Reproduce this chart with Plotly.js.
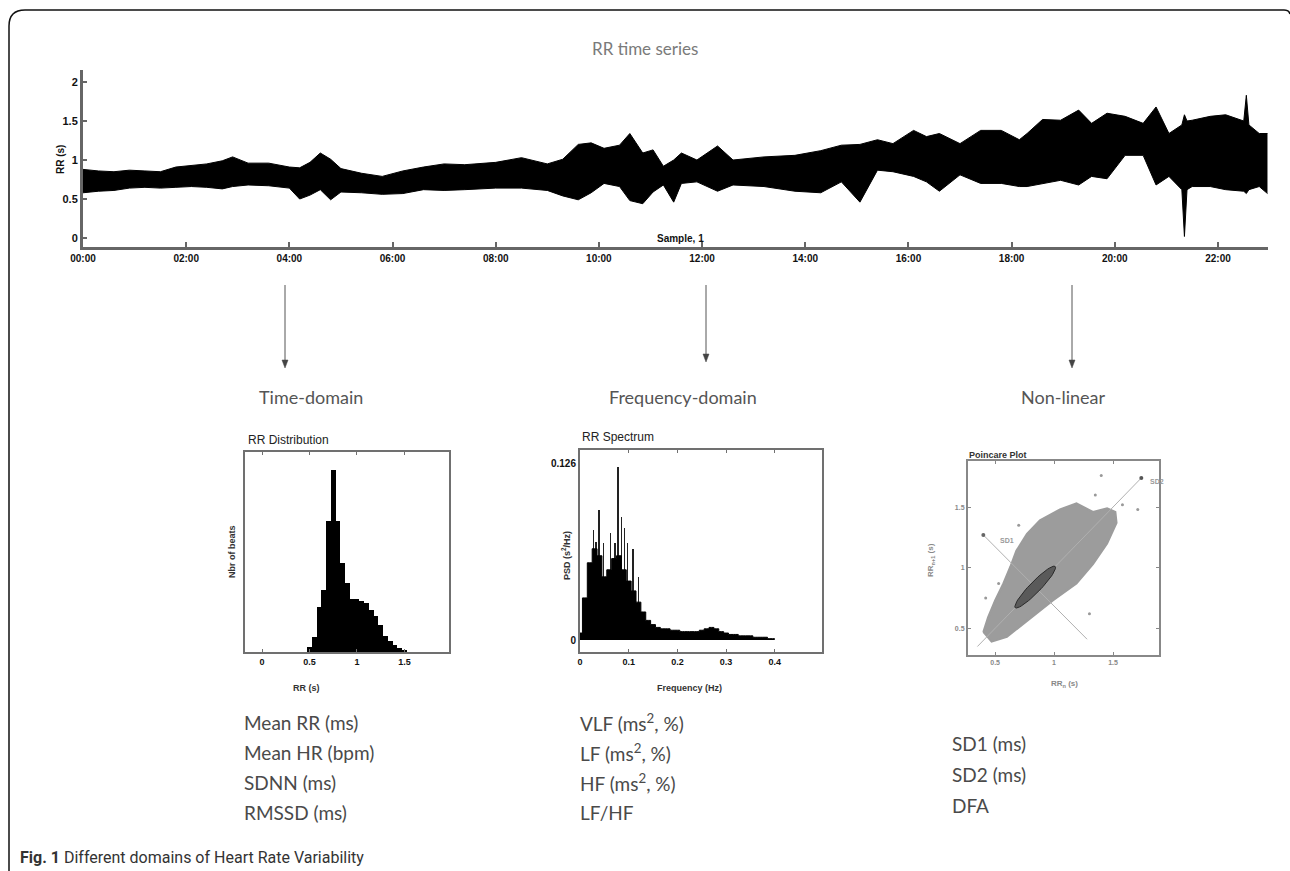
<!DOCTYPE html>
<html><head><meta charset="utf-8">
<script src="https://cdn.plot.ly/plotly-3.0.1.min.js"></script>
<style>html,body{margin:0;padding:0;background:#fff}#chart{width:1290px;height:871px}</style>
</head><body><div id="chart"></div>
<script>
// ---- RR time series (envelope: hours, upper and lower RR in s)
const rrHours = [0.00,0.3,0.6,0.9,1.2,1.5,1.8,2.1,2.4,2.7,2.9,3.2,3.6,4.0,4.2,4.4,4.6,4.8,5.0,5.4,5.8,6.2,6.6,7.0,7.4,8.0,8.5,9.0,9.3,9.6,9.85,10.1,10.4,10.6,10.85,11.05,11.25,11.45,11.6,11.9,12.3,12.6,13.2,13.8,14.3,14.7,15.06,15.4,15.7,16.1,16.35,16.6,17.0,17.4,17.8,18.15,18.3,18.6,18.95,19.3,19.55,19.85,20.2,20.55,20.8,21.05,21.3,21.35,21.4,21.5,21.85,22.15,22.5,22.55,22.6,22.8,22.96];
const rrUpper = [0.88,0.86,0.85,0.87,0.86,0.85,0.91,0.93,0.95,0.99,1.04,0.96,0.96,0.91,0.90,0.97,1.09,1.01,0.89,0.83,0.79,0.86,0.91,0.95,0.94,0.97,1.03,0.95,1.01,1.20,1.22,1.15,1.19,1.34,1.09,1.13,0.92,1.00,1.09,1.00,1.18,1.00,1.04,1.06,1.12,1.19,1.20,1.26,1.21,1.38,1.30,1.34,1.21,1.38,1.38,1.26,1.34,1.52,1.51,1.64,1.47,1.60,1.56,1.47,1.68,1.34,1.45,1.58,1.50,1.51,1.56,1.58,1.50,1.83,1.45,1.34,1.34];
const rrLower = [0.58,0.60,0.61,0.64,0.65,0.64,0.65,0.66,0.65,0.63,0.66,0.68,0.67,0.64,0.50,0.55,0.62,0.49,0.59,0.58,0.56,0.57,0.62,0.61,0.62,0.64,0.64,0.61,0.54,0.49,0.58,0.70,0.66,0.48,0.44,0.59,0.68,0.46,0.70,0.72,0.60,0.68,0.66,0.60,0.58,0.72,0.46,0.87,0.85,0.79,0.72,0.60,0.81,0.70,0.70,0.66,0.66,0.70,0.74,0.68,0.79,0.76,1.06,1.06,0.68,0.79,0.62,0.02,0.62,0.66,0.66,0.62,0.60,0.57,0.62,0.66,0.57];
const timeTickVals = [0,2,4,6,8,10,12,14,16,18,20,22];
const timeTickText = ["00:00","02:00","04:00","06:00","08:00","10:00","12:00","14:00","16:00","18:00","20:00","22:00"];
const rrTickVals = [0,0.5,1,1.5,2];

// ---- RR distribution histogram (bin centres in s, relative counts)
const histBins = [0.50,0.55,0.60,0.65,0.70,0.75,0.80,0.85,0.90,0.95,1.00,1.05,1.10,1.15,1.20,1.25,1.30,1.35,1.40,1.45,1.50];
const histCounts = [3,8,25,34,72,100,72,49,38,29,29,28,27,23,20,15,9,6,4,2,1];
const histTicks = [0,0.5,1,1.5];

// ---- RR spectrum (Hz, s^2/Hz)
const specFreq = [0.00,0.01,0.02,0.03,0.04,0.05,0.06,0.07,0.08,0.09,0.10,0.11,0.12,0.13,0.14,0.15,0.16,0.17,0.18,0.19,0.20,0.21,0.22,0.23,0.24,0.25,0.26,0.27,0.28,0.29,0.30,0.31,0.32,0.33,0.34,0.35,0.36,0.37,0.38,0.39,0.40];
const specPSD  = [0.005,0.030,0.055,0.065,0.060,0.045,0.050,0.058,0.060,0.050,0.042,0.035,0.027,0.020,0.014,0.011,0.009,0.008,0.008,0.007,0.007,0.006,0.006,0.006,0.006,0.007,0.008,0.009,0.008,0.006,0.005,0.004,0.004,0.003,0.003,0.003,0.002,0.002,0.002,0.001,0.001];
const peakFreq = [0.028,0.033,0.039,0.048,0.062,0.072,0.078,0.086,0.092,0.097,0.109,0.120];
const peakPSD  = [0.078,0.070,0.0925,0.069,0.076,0.069,0.123,0.0875,0.080,0.069,0.065,0.045];
const specXTicks = [0,0.1,0.2,0.3,0.4];
const specYTicks = [0,0.126];

// ---- Poincare plot (RRn, RRn+1 in s)
const cloudX = [0.40,0.47,0.60,0.80,0.99,1.19,1.33,1.45,1.53,1.52,1.45,1.33,1.19,1.05,0.88,0.77,0.68,0.63,0.57,0.50,0.44,0.40];
const cloudY = [0.47,0.39,0.43,0.58,0.73,0.87,1.03,1.20,1.37,1.46,1.49,1.46,1.53,1.48,1.39,1.28,1.14,1.01,0.87,0.73,0.59,0.47];
const outX = [1.40,1.71,0.53,0.42,1.30,1.58,0.70,1.35];
const outY = [1.76,1.48,0.87,0.75,0.62,1.52,1.35,1.60];
const identX = [0.35,1.74];
const identY = [0.35,1.74];
const sd1LineX = [0.40,1.28];
const sd1LineY = [1.27,0.41];
const ellipseCentre = [0.84,0.84];
const sd2Half = 0.24;
const sd1Half = 0.045;
const poincTicks = [0.5,1,1.5];

// ---- text
const sectionTitles = ["Time-domain","Frequency-domain","Non-linear"];
const timeList = ["Mean RR (ms)","Mean HR (bpm)","SDNN (ms)","RMSSD (ms)"];
const freqList = ["VLF (ms<sup>2</sup>, %)","LF (ms<sup>2</sup>, %)","HF (ms<sup>2</sup>, %)","LF/HF"];
const nonlinList = ["SD1 (ms)","SD2 (ms)","DFA"];

// ---- layout helpers (pixel -> paper)
const W = 1290, H = 871;
const px = x => x / W;
const py = y => 1 - y / H;

// ellipse points derived from SD1/SD2 parameters
const ellX = [], ellY = [];
for (let i = 0; i <= 60; i++) {
  const t = i / 60 * 2 * Math.PI;
  const a = sd2Half * Math.cos(t), b = sd1Half * Math.sin(t);
  ellX.push(ellipseCentre[0] + (a - b) / Math.SQRT2);
  ellY.push(ellipseCentre[1] + (a + b) / Math.SQRT2);
}

const traces = [
  {x: rrHours, y: rrLower, type: 'scatter', mode: 'lines', line: {color: '#000', width: 1}, xaxis: 'x', yaxis: 'y', hoverinfo: 'skip'},
  {x: rrHours, y: rrUpper, type: 'scatter', mode: 'lines', fill: 'tonexty', fillcolor: '#000', line: {color: '#000', width: 1}, xaxis: 'x', yaxis: 'y', hoverinfo: 'skip'},
  {x: histBins, y: histCounts, type: 'bar', width: 0.051, marker: {color: '#000', line: {width: 0}}, xaxis: 'x2', yaxis: 'y2'},
  {x: specFreq, y: specPSD, type: 'scatter', mode: 'lines', line: {color: '#000', width: 1, shape: 'hvh'}, fill: 'tozeroy', fillcolor: '#000', xaxis: 'x3', yaxis: 'y3'},
  {x: peakFreq, y: peakPSD, type: 'bar', width: 0.0025, marker: {color: '#222', line: {width: 0}}, xaxis: 'x3', yaxis: 'y3'},
  {x: cloudX, y: cloudY, type: 'scatter', mode: 'lines', fill: 'toself', fillcolor: '#9c9c9c', line: {color: '#9c9c9c', width: 2}, xaxis: 'x4', yaxis: 'y4'},
  {x: outX, y: outY, type: 'scatter', mode: 'markers', marker: {color: '#999', size: 3}, xaxis: 'x4', yaxis: 'y4'},
  {x: identX, y: identY, type: 'scatter', mode: 'lines+markers', line: {color: '#b0b0b0', width: 1}, marker: {color: ['rgba(0,0,0,0)','#555'], size: 4}, xaxis: 'x4', yaxis: 'y4'},
  {x: sd1LineX, y: sd1LineY, type: 'scatter', mode: 'lines+markers', line: {color: '#b0b0b0', width: 1}, marker: {color: ['#666','rgba(0,0,0,0)'], size: 4}, xaxis: 'x4', yaxis: 'y4'},
  {x: ellX, y: ellY, type: 'scatter', mode: 'lines', fill: 'toself', fillcolor: '#5a5a5a', line: {color: '#2a2a2a', width: 1}, xaxis: 'x4', yaxis: 'y4'}
];

const tf = (s, c) => ({family: 'Arial, Liberation Sans, sans-serif', size: s, color: c || '#111', weight: 'bold'});
const boxAxis = (extra) => Object.assign({showline: true, mirror: 'ticks', linecolor: '#707070', linewidth: 2, ticks: 'inside', ticklen: 3, tickcolor: '#707070', showgrid: false, zeroline: false, fixedrange: true}, extra);

const ann = [];
const txt = (x, y, text, font, opts) => ann.push(Object.assign({xref: 'paper', yref: 'paper', x: px(x), y: py(y), text: text, showarrow: false, font: font, xanchor: 'center', yanchor: 'middle'}, opts || {}));

txt(645, 48, 'RR time series', {family: 'Lato, Open Sans, sans-serif', size: 17, color: '#7a7a7a'});
txt(680, 238, 'Sample, 1', tf(10));
txt(60, 160, 'RR (s)', tf(10), {textangle: -90});

const secFont = {family: 'Lato, Open Sans, sans-serif', size: 18, color: '#555'};
txt(311, 397, sectionTitles[0], secFont);
txt(683, 397, sectionTitles[1], secFont);
txt(1063, 397, sectionTitles[2], secFont);

// subplot titles and axis titles
txt(246, 440, 'RR Distribution', {family: 'Arial, sans-serif', size: 12, color: '#222'}, {xanchor: 'left'});
txt(580, 437, 'RR Spectrum', {family: 'Arial, sans-serif', size: 12, color: '#222'}, {xanchor: 'left'});
txt(967, 455, 'Poincare Plot', tf(9, '#333'), {xanchor: 'left'});
txt(232, 552, 'Nbr of beats', tf(9, '#333'), {textangle: -90});
txt(566, 556, 'PSD (s<sup>2</sup>/Hz)', tf(9, '#333'), {textangle: -90});
txt(931, 560, 'RR<sub>n+1</sub> (s)', tf(8, '#888'), {textangle: -90});
txt(306, 688, 'RR (s)', tf(9, '#333'));
txt(690, 688, 'Frequency (Hz)', tf(9, '#333'));
txt(1064, 684, 'RR<sub>n</sub> (s)', tf(8, '#888'));
txt(1148, 481, 'SD2', tf(7, '#999'), {xanchor: 'left'});
txt(998, 540, 'SD1', tf(7, '#999'), {xanchor: 'left'});

const listFont = {family: 'Lato, Open Sans, sans-serif', size: 19, color: '#4a4a4a'};
timeList.forEach((t, i) => txt(242, 722 + 30 * i, t, listFont, {xanchor: 'left'}));
freqList.forEach((t, i) => txt(578, 722 + 30 * i, t, listFont, {xanchor: 'left'}));
nonlinList.forEach((t, i) => txt(950, 743 + 31 * i, t, listFont, {xanchor: 'left'}));

txt(18, 857, '<b>Fig. 1</b> Different domains of Heart Rate Variability', {family: 'Roboto, sans-serif', size: 16, color: '#333'}, {xanchor: 'left'});

// arrows as shapes (line + triangular head)
const shapes = [
  {type: 'path', xref: 'paper', yref: 'paper',
   path: `M ${px(9)},${py(871)} L ${px(9)},${py(26)} Q ${px(9)},${py(10)} ${px(25)},${py(10)} L ${px(1284)},${py(10)} Q ${px(1289)},${py(10)} ${px(1290)},${py(14)}`,
   line: {color: '#111', width: 1.5}}
];
[[285, 368], [706, 362], [1072, 368]].forEach(p => {
  shapes.push({type: 'line', xref: 'paper', yref: 'paper', x0: px(p[0]), x1: px(p[0]), y0: py(285), y1: py(p[1] - 6), line: {color: '#555', width: 1}});
  shapes.push({type: 'path', xref: 'paper', yref: 'paper', path: `M ${px(p[0] - 3)},${py(p[1] - 8)} L ${px(p[0] + 3)},${py(p[1] - 8)} L ${px(p[0])},${py(p[1])} Z`, fillcolor: '#444', line: {color: '#444', width: 0.5}});
});

const layout = {
  width: W, height: H,
  margin: {l: 0, r: 0, t: 0, b: 0},
  paper_bgcolor: '#fff', plot_bgcolor: '#fff',
  showlegend: false, bargap: 0, barmode: 'overlay',
  xaxis: {domain: [px(83), px(1268)], anchor: 'y', range: [0, 22.97], tickvals: timeTickVals, ticktext: timeTickText, showline: true, linecolor: '#666', linewidth: 3, ticks: 'inside', ticklen: 5, tickcolor: '#666', tickwidth: 2, tickfont: tf(10), showgrid: false, zeroline: false},
  yaxis: {domain: [py(247), py(70)], anchor: 'x', range: [-0.115, 2.154], tickvals: rrTickVals, ticktext: rrTickVals.map(String), showline: true, linecolor: '#666', linewidth: 3, ticks: 'inside', ticklen: 4, tickcolor: '#666', tickwidth: 2, tickfont: tf(11), showgrid: false, zeroline: false},
  xaxis2: boxAxis({domain: [px(245), px(449)], anchor: 'y2', range: [-0.18, 1.97], tickvals: histTicks, ticktext: histTicks.map(String), tickfont: tf(9)}),
  yaxis2: boxAxis({domain: [py(652), py(452)], anchor: 'x2', range: [0, 110], showticklabels: false, ticks: ''}),
  xaxis3: boxAxis({domain: [px(580), px(822)], anchor: 'y3', range: [0, 0.497], tickvals: specXTicks, ticktext: specXTicks.map(String), tickfont: tf(9)}),
  yaxis3: boxAxis({domain: [py(652), py(450)], anchor: 'x3', range: [-0.0085, 0.1353], tickvals: specYTicks, ticktext: specYTicks.map(String), tickfont: tf(10), ticks: ''}),
  xaxis4: boxAxis({domain: [px(968), px(1159)], anchor: 'y4', range: [0.27, 1.89], tickvals: poincTicks, ticktext: ['0.5','1','1.5'], tickfont: tf(7, '#888'), linecolor: '#888', tickcolor: '#888'}),
  yaxis4: boxAxis({domain: [py(655), py(461)], anchor: 'x4', range: [0.28, 1.88], tickvals: poincTicks, ticktext: ['0.5','1','1.5'], tickfont: tf(7, '#888'), linecolor: '#888', tickcolor: '#888'}),
  annotations: ann,
  shapes: shapes
};

Plotly.newPlot('chart', traces, layout, {staticPlot: true, displayModeBar: false});
</script>
</body></html>
